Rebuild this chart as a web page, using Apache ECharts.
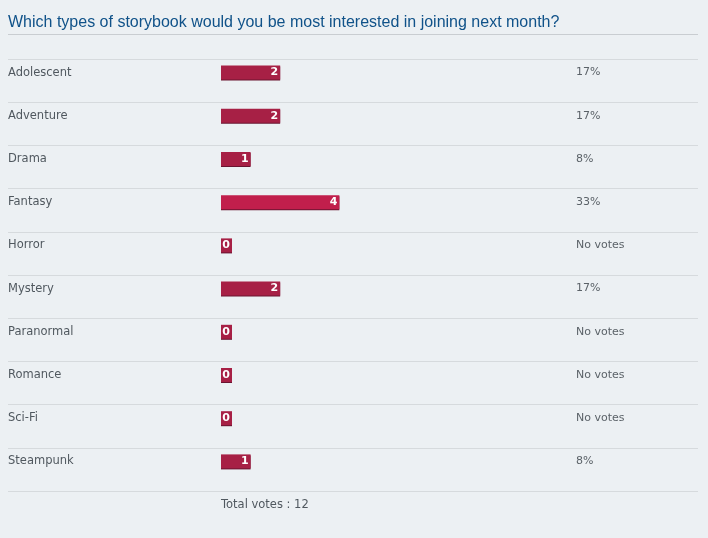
<!DOCTYPE html>
<html>
<head>
<meta charset="utf-8">
<script src="https://cdn.jsdelivr.net/npm/echarts@6/dist/echarts.min.js"></script>
<style>
    html, body { margin: 0; padding: 0; background: #ecf0f3; }
    #chart { width: 708px; height: 538px; }
</style>
</head>
<body>
<div id="chart"></div>
<script>
// poll data
var categories = ["Adolescent", "Adventure", "Drama", "Fantasy", "Horror", "Mystery", "Paranormal", "Romance", "Sci-Fi", "Steampunk"];
var votes = [2, 2, 1, 4, 0, 2, 0, 0, 0, 1];
var question = "Which types of storybook would you be most interested in joining next month?";

(function () {
    var total = votes.reduce(function (a, b) { return a + b; }, 0);
    var top = Math.max.apply(null, votes);
    // percent column
    var percents = votes.map(function (v) {
        return v === 0 ? "No votes" : Math.round(v / total * 100) + "%";
    });
    var textFont = "DejaVu Sans";

    var myChart = echarts.init(document.getElementById("chart"));
    var option = {
        backgroundColor: "#ecf0f3",
        animation: false,
        title: {
            text: question,
            left: 3,
            top: 10,
            textStyle: {
                color: "#105289",
                fontFamily: "Liberation Sans",
                fontWeight: "normal",
                fontSize: 16
            }
        },
        graphic: [
            {
                type: "line",
                shape: { x1: 8, y1: 34.5, x2: 698, y2: 34.5 },
                style: { stroke: "#c9cdd1", lineWidth: 1 }
            },
            {
                type: "text",
                left: 221,
                top: 499,
                style: {
                    text: "Total votes : " + total,
                    fill: "#50585f",
                    font: "11.5px " + textFont
                }
            }
        ],
        grid: [
            // bars
            { left: 221, top: 51, height: 432, width: 355 },
            // row separators
            { left: 8, right: 10, top: 59, height: 432 }
        ],
        xAxis: [
            { type: "value", gridIndex: 0, min: 0, max: total, show: false },
            { type: "value", gridIndex: 1, min: 0, max: 1, show: false }
        ],
        yAxis: [
            {
                type: "category",
                gridIndex: 0,
                inverse: true,
                data: categories,
                axisLine: { show: false },
                axisTick: { show: false },
                axisLabel: {
                    align: "left",
                    margin: 213,
                    color: "#50585f",
                    fontFamily: textFont,
                    fontSize: 11.5
                }
            },
            {
                type: "category",
                gridIndex: 0,
                position: "right",
                inverse: true,
                data: percents,
                axisLine: { show: false },
                axisTick: { show: false },
                axisLabel: {
                    align: "left",
                    margin: 0,
                    color: "#5b6268",
                    fontFamily: textFont,
                    fontSize: 11
                }
            },
            {
                type: "value",
                gridIndex: 1,
                inverse: true,
                min: 0,
                max: categories.length,
                interval: 1,
                axisLine: { show: false },
                axisTick: { show: false },
                axisLabel: { show: false },
                splitLine: { lineStyle: { color: "#d6dadd", width: 1 } }
            }
        ],
        series: [
            {
                type: "bar",
                xAxisIndex: 0,
                yAxisIndex: 0,
                data: votes,
                barWidth: 14,
                barMinHeight: 11,
                itemStyle: {
                    color: function (p) {
                        return p.value === top ? "#c11f4c" : "#a72045";
                    },
                    shadowColor: "#6a1430",
                    shadowOffsetY: 1,
                    shadowBlur: 0
                },
                label: {
                    show: true,
                    position: "insideRight",
                    distance: 2,
                    color: "#fff",
                    fontWeight: "bold",
                    fontFamily: textFont,
                    fontSize: 11
                }
            }
        ]
    };
    myChart.setOption(option);
})();
</script>
</body>
</html>
